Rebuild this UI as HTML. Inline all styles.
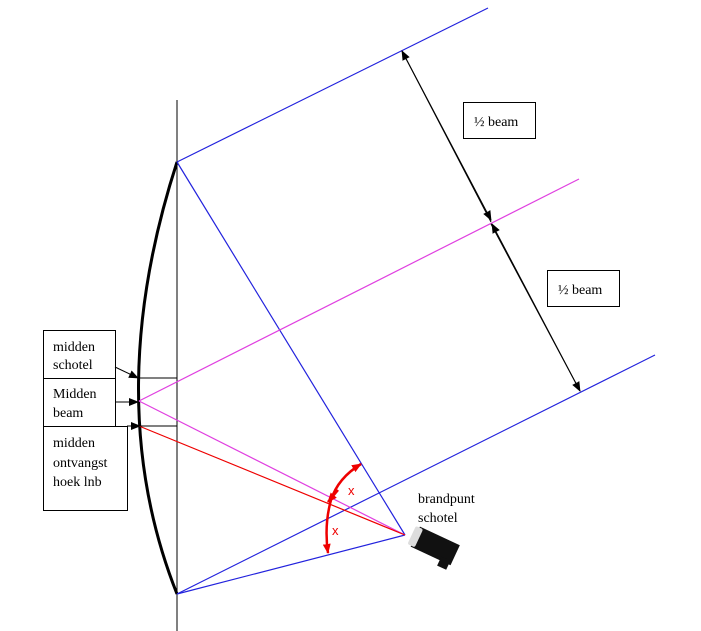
<!DOCTYPE html>
<html><head><style>
body{margin:0;background:#fff;}
svg{display:block;font-family:"Liberation Serif",serif;}
</style></head><body>
<svg width="701" height="631" viewBox="0 0 701 631" xmlns="http://www.w3.org/2000/svg">
<defs>
<marker id="ab" markerWidth="10" markerHeight="8" refX="9" refY="4" orient="auto" markerUnits="userSpaceOnUse"><path d="M0,0 L10,4 L0,8 Z" fill="#000"/></marker>
<marker id="ar" markerWidth="10" markerHeight="8" refX="9" refY="4" orient="auto" markerUnits="userSpaceOnUse"><path d="M0,0 L10,4 L0,8 Z" fill="#e00"/></marker>
</defs>
<line x1="177" y1="100" x2="177" y2="631" stroke="#000" stroke-width="1"/>
<path d="M177,162 Q100,400 177,594" fill="none" stroke="#000" stroke-width="3"/>
<g stroke="#2222dd" stroke-width="1.2">
<line x1="177" y1="162" x2="488" y2="8"/>
<line x1="177" y1="594" x2="655" y2="355"/>
<line x1="177" y1="162" x2="405" y2="535"/>
<line x1="177" y1="594" x2="405" y2="535"/>
</g>
<g stroke="#e040e0" stroke-width="1.2">
<line x1="139" y1="401" x2="579" y2="179"/>
<line x1="139" y1="401" x2="405" y2="535"/>
</g>
<line x1="139" y1="426" x2="405" y2="535" stroke="#e00" stroke-width="1.2"/>
<line x1="139" y1="378" x2="177" y2="378" stroke="#000"/>
<line x1="139" y1="426" x2="177" y2="426" stroke="#000"/>
<line x1="491" y1="222" x2="402" y2="51" stroke="#000" marker-end="url(#ab)"/>
<line x1="402" y1="51" x2="491" y2="220" stroke="#000" marker-end="url(#ab)"/>
<line x1="491" y1="224" x2="580" y2="391" stroke="#000" marker-end="url(#ab)"/>
<line x1="580" y1="391" x2="492" y2="224" stroke="#000" marker-end="url(#ab)"/>
<rect x="463.5" y="102.5" width="72" height="36" fill="#fff" stroke="#000"/>
<text x="474" y="126" font-size="14">½ beam</text>
<rect x="547.5" y="270.5" width="72" height="36" fill="#fff" stroke="#000"/>
<text x="558" y="294" font-size="14">½ beam</text>
<rect x="43.5" y="330.5" width="72" height="48" fill="#fff" stroke="#000"/>
<rect x="43.5" y="378.5" width="72" height="48" fill="#fff" stroke="#000"/>
<rect x="43.5" y="426.5" width="84" height="84" fill="#fff" stroke="#000"/>
<g font-size="14">
<text x="53" y="351">midden</text><text x="53" y="369">schotel</text>
<text x="53" y="398">Midden</text><text x="53" y="417">beam</text>
<text x="53" y="447">midden</text><text x="53" y="467">ontvangst</text><text x="53" y="486">hoek lnb</text>
<text x="418" y="503">brandpunt</text><text x="418" y="522">schotel</text>
</g>
<line x1="115" y1="367" x2="138" y2="378" stroke="#000" marker-end="url(#ab)"/>
<line x1="115" y1="402" x2="138" y2="402" stroke="#000" marker-end="url(#ab)"/>
<line x1="127" y1="426" x2="140" y2="426" stroke="#000" marker-end="url(#ab)"/>
<path d="M331,500 Q338,478 361,464" fill="none" stroke="#e00" stroke-width="2.5" marker-end="url(#ar)"/>
<path d="M331,500 Q324,525 328,553" fill="none" stroke="#e00" stroke-width="2.5" marker-end="url(#ar)"/>
<path d="M338,490 L328,502" fill="none" stroke="#e00" stroke-width="2.5" marker-end="url(#ar)"/>
<text x="348" y="495" font-family="Liberation Sans,sans-serif" font-size="13" fill="#e00">x</text>
<text x="332" y="535" font-family="Liberation Sans,sans-serif" font-size="13" fill="#e00">x</text>
<g transform="translate(433,546) rotate(25)">
<rect x="-20" y="-12" width="44" height="22" fill="#111"/>
<rect x="-24" y="-11" width="8" height="20" fill="#ddd" rx="2"/>
<rect x="12" y="6" width="10" height="10" fill="#111"/>
</g>
</svg>
</body></html>
